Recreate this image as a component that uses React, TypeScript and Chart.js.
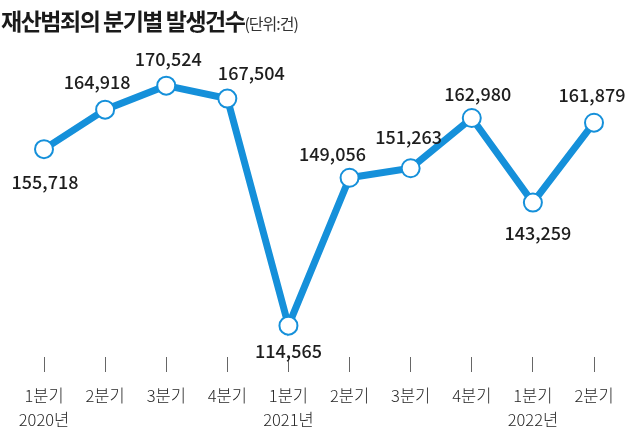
import React, { useEffect, useRef } from "react";
import { Chart, registerables } from "chart.js";

Chart.register(...registerables);

const quarters = ["1분기", "2분기", "3분기", "4분기", "1분기", "2분기", "3분기", "4분기", "1분기", "2분기"];
const years = ["2020년", "", "", "", "2021년", "", "", "", "2022년", ""];
const cases = [155718, 164918, 170524, 167504, 114565, 149056, 151263, 162980, 143259, 161879];
// label offsets (dx, dy) relative to each point
const labelDx = [1, -8, 2, 24, 0, -17, -2, 6, 5, -2];
const labelDy = [33, -28, -26, -25, 25, -24, -31, -24, 31, -28];

const BLUE = "#1590da";

const labelPlugin = {
  id: "valueLabels",
  afterDatasetsDraw(chart: any) {
    const ctx = chart.ctx;
    const meta = chart.getDatasetMeta(0);
    ctx.save();
    ctx.font = '500 18px "Noto Sans CJK KR", "Noto Sans", sans-serif';
    ctx.fillStyle = "#1e1e1e";
    ctx.textAlign = "center";
    ctx.textBaseline = "middle";
    meta.data.forEach((pt: any, i: number) => {
      ctx.fillText(cases[i].toLocaleString("en-US"), pt.x + labelDx[i], pt.y + labelDy[i]);
    });
    ctx.restore();
  },
};

export default function App() {
  const ref = useRef<HTMLCanvasElement>(null);
  useEffect(() => {
    document.body.style.margin = "0";
    const chart = new Chart(ref.current!, {
      type: "line",
      data: {
        labels: quarters.map((q, i) => (years[i] ? [q, years[i]] : [q])),
        datasets: [
          {
            data: cases,
            borderColor: BLUE,
            borderWidth: 7,
            pointRadius: 9,
            pointBorderWidth: 2,
            pointBackgroundColor: "#ffffff",
            pointBorderColor: BLUE,
            tension: 0,
          },
        ],
      },
      options: {
        animation: false,
        responsive: false,
        maintainAspectRatio: false,
        layout: { padding: { top: 40, left: 44, right: 46, bottom: 0 } },
        plugins: { legend: { display: false }, tooltip: { enabled: false }, title: { display: false } },
        scales: {
          y: { display: false, min: 107267, max: 181160 },
          x: {
            offset: false,
            border: { display: false },
            grid: { drawOnChartArea: false, drawTicks: true, tickLength: 15, color: "#666666", lineWidth: 1 },
            ticks: {
              color: "#262626",
              padding: 12,
              maxRotation: 0,
              autoSkip: false,
              font: { family: '"Noto Sans CJK KR", "Noto Sans", sans-serif', size: 16.5, weight: 300, lineHeight: 1.45 },
            },
            afterFit: (scale: any) => {
              scale.height = 86;
            },
          },
        },
      },
      plugins: [labelPlugin],
    });
    return () => chart.destroy();
  }, []);

  return (
    <div style={{ position: "relative", width: 640, height: 443, background: "#fff" }}>
      <canvas ref={ref} width={640} height={443} style={{ display: "block" }} />
      <div
        style={{
          position: "absolute",
          left: 1,
          top: 1,
          fontFamily: '"Noto Sans CJK KR", sans-serif',
          color: "#1a1a1a",
          whiteSpace: "nowrap",
          lineHeight: "38px",
        }}
      >
        <span style={{ fontSize: 23, fontWeight: 700, letterSpacing: -1.5 }}>재산범죄의 분기별 발생건수</span>
        <span style={{ fontSize: 16, fontWeight: 400, letterSpacing: -1, color: "#333" }}>(단위:건)</span>
      </div>
    </div>
  );
}
